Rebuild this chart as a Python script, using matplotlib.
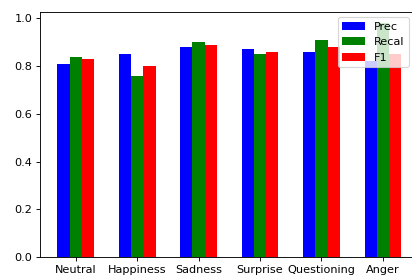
import matplotlib
matplotlib.use("Agg")
import matplotlib.pyplot as plt
import numpy as np

categories = ["Neutral", "Happiness", "Sadness", "Surprise", "Questioning", "Anger"]
prec = [0.81, 0.85, 0.88, 0.87, 0.86, 0.82]
recal = [0.84, 0.76, 0.90, 0.85, 0.91, 0.98]
f1 = [0.83, 0.80, 0.89, 0.86, 0.88, 0.85]

W, H, DPI = 412, 276, 81
fig = plt.figure(figsize=(W / DPI, H / DPI), dpi=DPI)
left, right, top, bottom = 40, 418.6, 11.5, 257
ax = fig.add_axes([left / W, 1 - bottom / H, (right - left) / W, (bottom - top) / H])

x = np.arange(len(categories))
w = 0.2
ax.bar(x - w, prec, w, color="blue", label="Prec")
ax.bar(x, recal, w, color="green", label="Recal")
ax.bar(x + w, f1, w, color="red", label="F1")
ax.set_xticks(x)
ax.set_xticklabels(categories)
fig.legend(loc="upper right", bbox_to_anchor=(408.5 / W, 1 - 17 / H), borderaxespad=0)
fig.savefig("out.png", dpi=DPI)
